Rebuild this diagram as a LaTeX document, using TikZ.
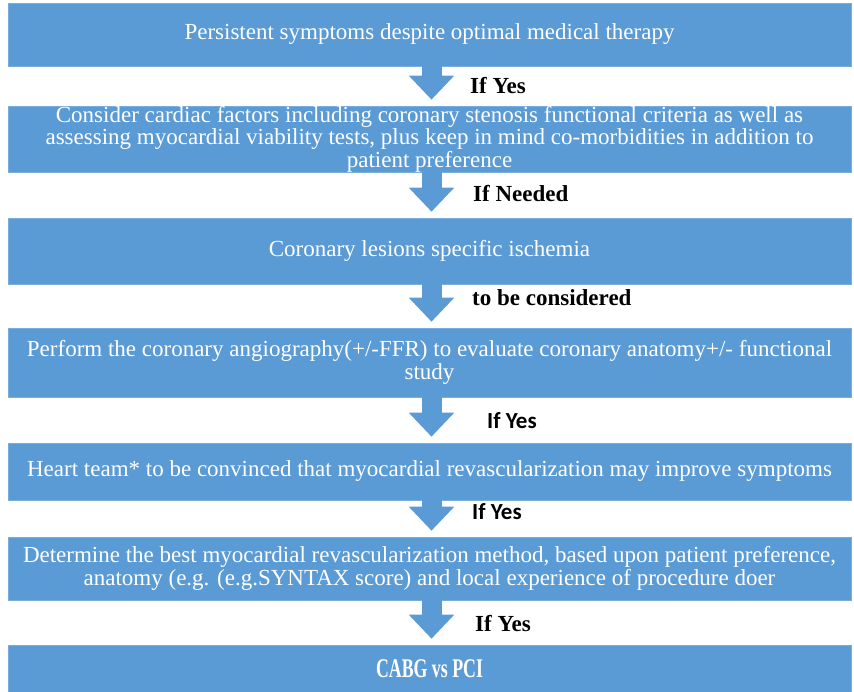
\documentclass[tikz,border=0pt]{standalone}
\usepackage{fontspec}
\setmainfont{Liberation Serif}
\newfontfamily\calsans{Carlito}
\newfontfamily\narrowserif{Liberation Serif}[FakeStretch=0.66]
\usepackage{xcolor}
\definecolor{FCblue}{HTML}{5B9BD5}
\definecolor{FCblueL}{HTML}{79ADE0}
\usepackage{tikz}
\usetikzlibrary{positioning,arrows.meta}

\begin{document}
\begin{tikzpicture}[
  x=1pt, y=-1pt,
  box/.style={fill=FCblue, draw=FCblueL, line width=0.6pt, text=white, align=center,
    minimum width=843pt, inner sep=0pt, font=\fontsize{23}{22.5}\selectfont},
  lbl/.style={anchor=west, inner sep=0pt, font=\fontsize{23}{22}\selectfont\bfseries},
  lblsans/.style={lbl, font=\fontsize{23}{22}\selectfont\calsans\bfseries},
  flow/.style={-{Triangle[length=24pt, width=44pt]}, line width=20pt, color=FCblue, shorten >=6pt}
]
\useasboundingbox (0,0) rectangle (854,692);
\node[box, minimum height=63pt] (sym) at (429.5,34.5) {Persistent symptoms despite optimal medical therapy};
\node[box, minimum height=66pt] (card) at (429.5,139) {Consider cardiac factors including coronary stenosis functional criteria as well as\\
  assessing myocardial viability tests, plus keep in mind co-morbidities in addition to\\ patient preference};
\node[box, minimum height=66pt] (isch) at (429.5,251) {Coronary lesions specific ischemia};
\node[box, minimum height=69pt] (angio) at (429.5,362.5) {Perform the coronary angiography(+/-FFR) to evaluate coronary anatomy+/- functional\\ study};
\node[box, minimum height=57pt] (team) at (429.5,471.5) {Heart team* to be convinced that myocardial revascularization may improve symptoms};
\node[box, minimum height=63pt] (meth) at (429.5,568.5) {Determine the best myocardial revascularization method, based upon patient preference,\\
  anatomy (e.g. (e.g.SYNTAX score) and local experience of procedure doer};
\node[box, minimum height=47pt, font=\fontsize{27}{28}\selectfont\narrowserif\bfseries] (cabg) at (429.5,668.5) {CABG vs PCI};

% arrows between the steps
\draw[flow] ([xshift=2pt]sym.south) -- ([xshift=2pt]card.north);
\draw[flow] ([xshift=2pt]card.south) -- ([xshift=2pt]isch.north);
\draw[flow] ([xshift=2pt]isch.south) -- ([xshift=2pt]angio.north);
\draw[flow] ([xshift=2pt]angio.south) -- ([xshift=2pt]team.north);
\draw[flow] ([xshift=2pt]team.south) -- ([xshift=2pt]meth.north);
\draw[flow] ([xshift=2pt]meth.south) -- ([xshift=2pt]cabg.north);

\node[lbl] (y1) at (470,86) {If Yes};
\node[lbl] (need) at (473,194) {If Needed};
\node[lbl] (cons) at (472,298) {to be considered};
\node[lblsans] (y2) at (487,421) {If Yes};
\node[lblsans] (y3) at (472,512) {If Yes};
\node[lbl] (y4) at (475,624) {If Yes};
\end{tikzpicture}
\end{document}
